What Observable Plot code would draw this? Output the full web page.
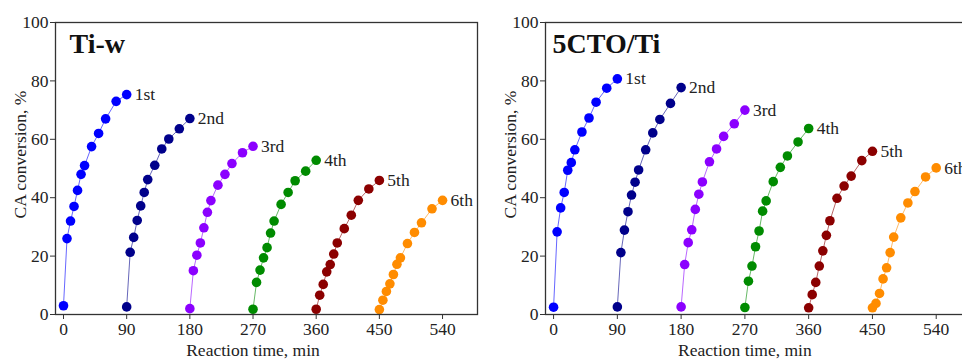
<!DOCTYPE html>
<html><head><meta charset="utf-8">
<script src="https://cdn.jsdelivr.net/npm/d3@7"></script>
<script src="https://cdn.jsdelivr.net/npm/@observablehq/plot@0.6"></script>
<style>
body{margin:0;background:#fff;}
#wrap{position:relative;width:962px;height:360px;overflow:hidden;background:#fff;}
#wrap > svg, #wrap > figure, #wrap > div{position:absolute;top:0;margin:0;}
</style></head><body><div id="wrap"></div>
<script>
const sampleTimes = [0,5,10,15,20,25,30,40,50,60,75,90];
const cycleOffsets = [0,90,180,270,360,450];
const cycleLabels = ["1st","2nd","3rd","4th","5th","6th"];
const cycleColors = ["#0000ff","#00008b","#8b00ff","#008b00","#8b0000","#ff8c00"];
const xTicks = [0,90,180,270,360,450,540];
const yTicks = [0,20,40,60,80,100];
const panelTitles = ["Ti-w","5CTO/Ti"];

// Ti-w
const tiw1st = [3,26,32,37,42.5,48,51,57.5,62,67,73,75.3];
const tiw2nd = [2.6,21.3,26.4,32.2,37.2,41.8,46.2,51.1,56.7,60.1,63.6,67.1];
const tiw3rd = [2,15,20.3,24.5,29.7,35,39,44.3,48,51.7,55.4,57.6];
const tiw4th = [1.8,11,15.2,19.4,22.9,27.9,32,37.7,41.8,45.8,49.1,52.8];
const tiw5th = [1.8,6.6,10.3,14.6,17.1,20.7,24.5,29.4,34,39.1,43,45.9];
const tiw6th = [1.7,4.9,7.9,10.5,13.7,17.2,19.4,24.3,28.1,31.4,36.2,39.1];

// 5CTO/Ti
const cto1st = [2.5,28.3,36.5,41.8,49.4,52,56.4,62.5,67.3,72.7,77.5,80.7];
const cto2nd = [2.6,21.2,28.9,35.2,40.9,45.3,49.5,56.4,62.2,66.8,72.3,77.7];
const cto3rd = [2.6,17.1,24.6,29,36,41.2,45.4,52.3,56.7,61,65.3,70];
const cto4th = [2.4,11.4,16.6,23.2,28.6,35.4,38.9,45.5,50.4,54.3,59.1,63.7];
const cto5th = [2.3,6.8,11,16.6,21.8,27.1,32.1,39.8,44,47.4,52.7,55.9];
const cto6th = [2.3,3.8,7.2,12.2,16,21.2,26.5,33.1,38.2,42.1,47.1,50.2];

function buildRows(series) {
  const rows = [];
  series.forEach((vals, ci) => {
    vals.forEach((v, i) => rows.push({time: cycleOffsets[ci] + sampleTimes[i], conv: v, cycle: cycleLabels[ci]}));
  });
  return rows;
}

function panel(series, title, opts) {
  const rows = buildRows(series);
  const last = cycleLabels.map(c => rows.filter(r => r.cycle === c).slice(-1)[0]);
  return Plot.plot({
    width: opts.width,
    height: 360,
    marginLeft: 55,
    marginRight: 13,
    marginTop: 22,
    marginBottom: 46,
    style: {fontFamily: "'Liberation Serif', 'Times New Roman', serif", fontSize: "17.5px", color: "#222", background: "transparent", overflow: "visible"},
    x: {domain: [-11.4, 589.8], ticks: xTicks},
    y: {domain: [0, 100], ticks: yTicks},
    color: {domain: cycleLabels, range: cycleColors},
    marks: [
      Plot.line(rows, {x: "time", y: "conv", z: "cycle", stroke: "cycle", strokeWidth: 1, strokeOpacity: 0.6}),
      Plot.dot(rows, {x: "time", y: "conv", fill: "cycle", r: 4.8}),
      Plot.text(last, {x: "time", y: "conv", text: "cycle", dx: 8, textAnchor: "start", fill: "#222", fontSize: 17.5}),
      Plot.frame({stroke: "#333", strokeWidth: 1.3}),
      Plot.axisX({ticks: xTicks, tickSize: 5, tickPadding: 3, label: null, stroke: "#333", fontSize: 17.5}),
      Plot.axisY({ticks: yTicks, tickSize: 5, tickPadding: 2, label: null, stroke: "#333", fontSize: 17.5}),
      Plot.text([title], {frameAnchor: "top-left", dx: opts.titleDx, dy: 11, lineAnchor: "top", textAnchor: "start", fontWeight: "bold", fontSize: 28, fill: "#111"}),
      Plot.text(["CA conversion, %"], {frameAnchor: "left", rotate: -90, dx: -35, dy: -14, textAnchor: "middle", lineAnchor: "middle", fontSize: 17.5, fill: "#222"}),
      Plot.text(["Reaction time, min"], {x: 270, frameAnchor: "bottom", dy: 36, lineAnchor: "middle", textAnchor: "middle", fontSize: 17.5, fill: "#222"})
    ]
  });
}

const wrap = document.getElementById("wrap");
const p1 = panel([tiw1st,tiw2nd,tiw3rd,tiw4th,tiw5th,tiw6th], panelTitles[0], {width: 490, titleDx: 14});
p1.style.left = "0px";
wrap.appendChild(p1);
const p2 = panel([cto1st,cto2nd,cto3rd,cto4th,cto5th,cto6th], panelTitles[1], {width: 494, titleDx: 7});
p2.style.left = "489.5px";
wrap.appendChild(p2);
</script></body></html>
